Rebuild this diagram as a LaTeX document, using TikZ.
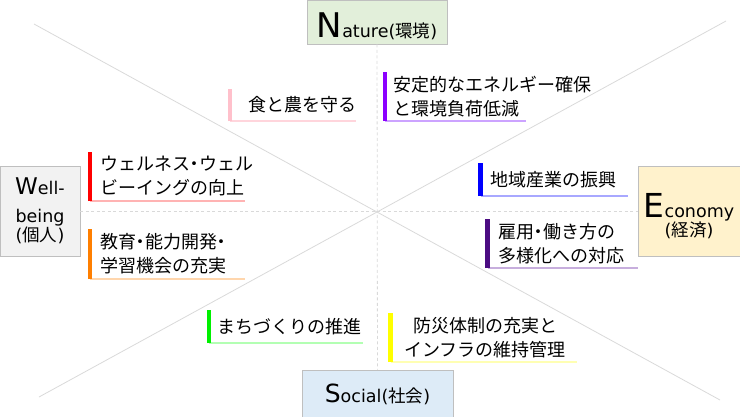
\documentclass[tikz,border=0pt]{standalone}
\usepackage{fontspec}
\setmainfont{Noto Sans CJK JP}
\newfontfamily\latinfont{DejaVu Sans}

\definecolor{natfill}{HTML}{E2EFDA}
\definecolor{wellfill}{HTML}{F2F2F2}
\definecolor{ecofill}{HTML}{FFF2CC}
\definecolor{socfill}{HTML}{DDEBF7}
\definecolor{boxgray}{HTML}{BFBFBF}
\definecolor{guidegray}{HTML}{D9D9D9}
\definecolor{pinkbar}{HTML}{FFC0CB}
\definecolor{pinkline}{HTML}{FFD5DC}
\definecolor{redbar}{HTML}{FF0000}
\definecolor{redline}{HTML}{FFB3B3}
\definecolor{violetbar}{HTML}{8B00FF}
\definecolor{violetline}{HTML}{CCA3FF}
\definecolor{bluebar}{HTML}{0000FF}
\definecolor{blueline}{HTML}{A8A8FF}
\definecolor{orangebar}{HTML}{FF7F00}
\definecolor{orangeline}{HTML}{FFD6AD}
\definecolor{indigobar}{HTML}{4B0C82}
\definecolor{indigoline}{HTML}{C7AEDD}
\definecolor{greenbar}{HTML}{00F000}
\definecolor{greenline}{HTML}{B3FFB3}
\definecolor{yellowbar}{HTML}{FFFF00}
\definecolor{yellowline}{HTML}{FFFFB3}

\newcommand\initial[2]{{\fontsize{#1}{#1}\selectfont\latinfont #2}}
\newcommand\lat[1]{{\latinfont #1}}
\newcommand\paren[1]{\lat{(}#1\lat{)}}
\newcommand\nakaguro{\makebox[.5em]{・}}

\tikzset{
  theme/.style={draw=boxgray, line width=0.8pt, inner sep=0pt, align=center,
    font=\fontsize{17.5}{19}\selectfont},
  item/.style={anchor=south west, inner sep=0pt, align=left,
    font=\fontsize{18}{24}\selectfont},
  bar/.style={draw=#1, line width=4.5pt},
  uline/.style={draw=#1, line width=1.2pt},
  guide/.style={draw=guidegray, line width=0.8pt},
  axis/.style={draw=guidegray, line width=0.8pt, dash pattern=on 3pt off 2.5pt},
}

\begin{document}
\begin{tikzpicture}[x=1pt,y=-1pt]
\useasboundingbox (0,0) rectangle (740,416);

% diagonals
\coordinate (nw) at (34,24);
\coordinate (se) at (720,400);
\coordinate (ne) at (726,21);
\coordinate (sw) at (39,397);
\draw[guide] (nw) -- (se);
\draw[guide] (ne) -- (sw);

% four themes
\node[theme, fill=natfill, minimum width=140pt, minimum height=44pt, text height=34pt] (nature) at (377,22)
  {\initial{34}{N}\lat{ature}\paren{環境}};
\node[theme, fill=wellfill, minimum width=80pt, minimum height=90pt] (well) at (40,211)
  {\initial{23}{W}\lat{ell-}\\[9pt]\lat{being}\\\paren{個人}};
\node[theme, fill=ecofill, minimum width=102pt, minimum height=90pt, text height=54pt] (economy) at (689,211)
  {\initial{33}{E}\lat{conomy}\\\paren{経済}};
\node[theme, fill=socfill, minimum width=151pt, minimum height=49pt] (social) at (377.5,394.5)
  {\initial{25}{S}\lat{ocial}\paren{社会}};

\draw[axis] (nature) -- (social);
\draw[axis] (well) -- (economy);

% items
\node[item, text width=108pt, minimum height=32pt] (food) at (248,121) {食と農を守る};
\draw[uline=pinkline] ([xshift=-18pt]food.south west) -- (food.south east);
\draw[bar=pinkbar] ([xshift=-18pt]food.south west) -- ([xshift=-18pt]food.north west);

\node[item, text width=145pt, minimum height=49pt] (wellness) at (100,201)
  {ウェルネス\nakaguro ウェル\\ビーイングの向上};
\draw[uline=redline] ([xshift=-10pt]wellness.south west) -- (wellness.south east);
\draw[bar=redbar] ([xshift=-10pt]wellness.south west) -- ([xshift=-10pt]wellness.north west);

\node[item, text width=133pt, minimum height=49pt] (energy) at (393,121)
  {安定的なエネルギー確保\\と環境負荷低減};
\draw[uline=violetline] ([xshift=-8pt]energy.south west) -- (energy.south east);
\draw[bar=violetbar] ([xshift=-8pt]energy.south west) -- ([xshift=-8pt]energy.north west);

\node[item, text width=138pt, minimum height=33pt] (industry) at (490,196) {地域産業の振興};
\draw[uline=blueline] ([xshift=-9.5pt]industry.south west) -- (industry.south east);
\draw[bar=bluebar] ([xshift=-9.5pt]industry.south west) -- ([xshift=-9.5pt]industry.north west);

\node[item, text width=145pt, minimum height=50pt] (learning) at (100,279)
  {教育\nakaguro 能力開発\nakaguro\\学習機会の充実};
\draw[uline=orangeline] ([xshift=-10pt]learning.south west) -- (learning.south east);
\draw[bar=orangebar] ([xshift=-10pt]learning.south west) -- ([xshift=-10pt]learning.north west);

\node[item, text width=140pt, minimum height=49pt] (work) at (498,268)
  {雇用\nakaguro 働き方の\\多様化への対応};
\draw[uline=indigoline] ([xshift=-10.5pt]work.south west) -- (work.south east);
\draw[bar=indigobar] ([xshift=-10.5pt]work.south west) -- ([xshift=-10.5pt]work.north west);

\node[item, text width=146pt, minimum height=33pt] (town) at (217,343) {まちづくりの推進};
\draw[uline=greenline] ([xshift=-8pt]town.south west) -- (town.south east);
\draw[bar=greenbar] ([xshift=-8pt]town.south west) -- ([xshift=-8pt]town.north west);

\node[item, align=center, text width=184pt, minimum height=49pt] (safety) at (393,362)
  {防災体制の充実と\\インフラの維持管理};
\draw[uline=yellowline] ([xshift=-2.5pt]safety.south west) -- (safety.south east);
\draw[bar=yellowbar] ([xshift=-2.5pt]safety.south west) -- ([xshift=-2.5pt]safety.north west);
\end{tikzpicture}
\end{document}
